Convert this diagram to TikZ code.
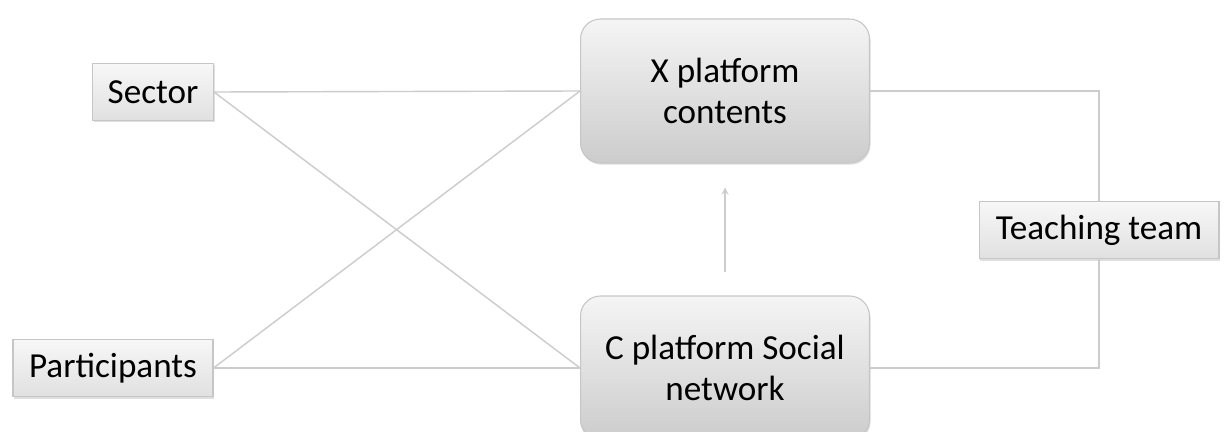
\documentclass[tikz,border=0pt]{standalone}
\usepackage{fontspec}
\setmainfont{Carlito}
\usetikzlibrary{arrows,shadows}

\begin{document}
\begin{tikzpicture}[x=0.02cm,y=-0.02cm,>=stealth,
    box/.style={draw=gray!45,line width=0.6pt,top color=gray!6,bottom color=gray!24,
      drop shadow={opacity=0.25,shadow xshift=0.6pt,shadow yshift=-1pt},
      minimum height=1.15cm,inner sep=0pt,font=\fontsize{20}{23}\selectfont},
    platform/.style={box,rounded corners=0.4cm,minimum width=5.78cm,minimum height=2.88cm,
      align=center,top color=gray!8,bottom color=gray!40},
    link/.style={draw=gray!40,line width=0.8pt}]
  \fill[white] (0,0) rectangle (1226,432);
  \useasboundingbox (0,0) rectangle (1226,432);
  \node[box,minimum width=2.42cm] (sector) at (153,92) {Sector};
  \node[box,minimum width=4cm] (part) at (113,368) {Participants};
  \node[platform] (xcont) at (725,91) {X platform\\contents};
  \node[platform] (csoc) at (725,368) {C platform Social\\network};
  \node[box,minimum width=4.8cm] (team) at (1099,230) {Teaching team};
  \draw[link] (sector.east) -- (xcont.west);
  \draw[link] (sector.east) -- (csoc.west);
  \draw[link] (part.east) -- (xcont.west);
  \draw[link] (part.east) -- (csoc.west);
  \draw[link] (xcont.east) -| (team.north);
  \draw[link] (csoc.east) -| (team.south);
  \draw[link,->,shorten <=0.46cm,shorten >=0.48cm] (csoc.north) -- (xcont.south);
\end{tikzpicture}
\end{document}
